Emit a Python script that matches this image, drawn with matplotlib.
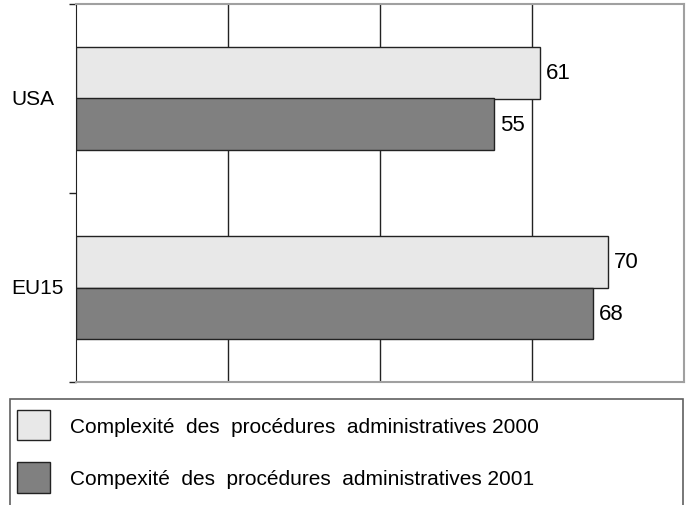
import matplotlib
matplotlib.use("Agg")
import matplotlib.pyplot as plt
import matplotlib.transforms as mtransforms
from matplotlib.patches import Rectangle

plt.rcParams["font.family"] = ["Liberation Sans", "DejaVu Sans"]

# données
pays = ["EU15", "USA"]
val_2000 = [70, 61]
val_2001 = [68, 55]
labels = ["Complexité  des  procédures  administratives 2000",
          "Compexité  des  procédures  administratives 2001"]

fig = plt.figure(figsize=(6.91, 5.06), dpi=100)
ax = fig.add_axes([76 / 691, 1 - 383 / 506, 608 / 691, 378 / 506])

h = 0.27
pos = list(range(len(pays)))
b1 = ax.barh([p + h / 2 for p in pos], val_2000, height=h, color="#e8e8e8",
             edgecolor="#222222", linewidth=1, label=labels[0], zorder=3)
b2 = ax.barh([p - h / 2 for p in pos], val_2001, height=h, color="#808080",
             edgecolor="#222222", linewidth=1, label=labels[1], zorder=3)

for bars in (b1, b2):
    for rect, v in zip(bars, bars.datavalues):
        ax.text(v + 0.8, rect.get_y() + rect.get_height() / 2, str(int(v)),
                va="center", ha="left", fontsize=16)

ax.set_xlim(0, 80)
ax.set_ylim(-0.5, 1.5)
ax.set_xticks([20, 40, 60])
ax.xaxis.grid(True, color="#222222", linewidth=1, zorder=0)
ax.tick_params(axis="x", length=0, labelbottom=False)
ax.set_yticks([-0.5, 0.5, 1.5])
ax.tick_params(axis="y", length=5, width=1, color="#222222", labelleft=False)

trans = mtransforms.blended_transform_factory(ax.transAxes, ax.transData)
for p, name in zip(pos, pays):
    ax.text(-65 / 608, p, name, transform=trans, ha="left", va="center",
            fontsize=15)

ax.spines["left"].set_color("#222222")
for s in ("top", "right", "bottom"):
    ax.spines[s].set_color("#a0a0a0")
    ax.spines[s].set_linewidth(1.5)

# cadre de la légende dessiné à part
fig.patches.append(Rectangle((10 / 691, -0.01), 673 / 691, 1 - 400 / 506 + 0.01,
                             transform=fig.transFigure, fill=False,
                             edgecolor="#606060", linewidth=1.2))

fig.legend(handles=[b1, b2], labels=labels, loc="upper left",
           bbox_to_anchor=(1 / 691, 1 - 400 / 506, 680 / 691, 0.01),
           mode="expand", fontsize=15, frameon=False,
           handlelength=1.6, handleheight=1.9,
           handletextpad=0.95, labelspacing=1.05, borderpad=0.75,
           borderaxespad=0)

fig.savefig("out.png", dpi=100)
